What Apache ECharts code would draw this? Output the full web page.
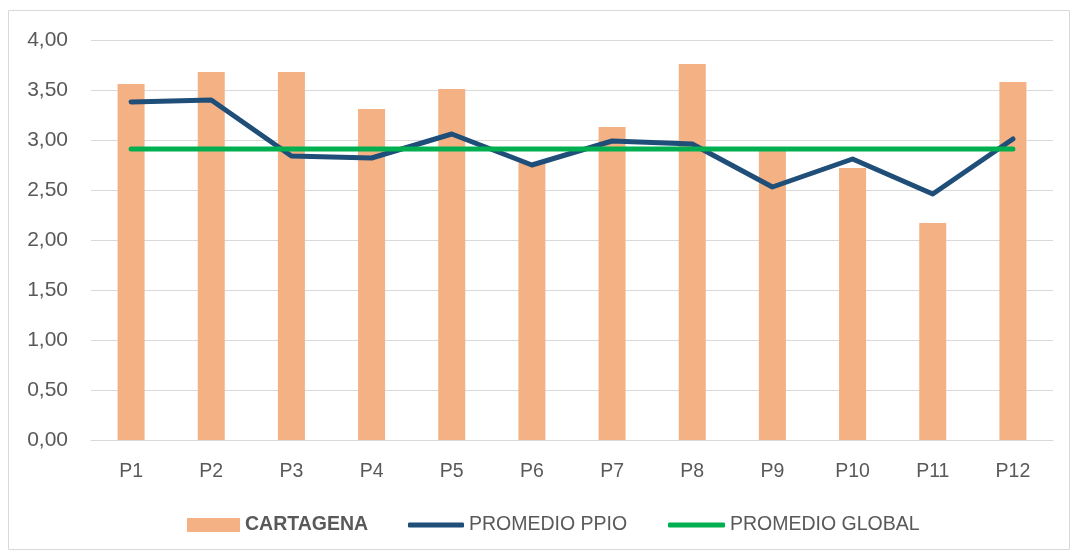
<!DOCTYPE html>
<html>
<head>
<meta charset="utf-8">
<script src="https://cdn.jsdelivr.net/npm/echarts@6/dist/echarts.min.js"></script>
<style>html,body{margin:0;padding:0;background:#fff}#c{width:1077px;height:556px}</style>
</head>
<body>
<div id="c"></div>
<script>
const categories = ['P1','P2','P3','P4','P5','P6','P7','P8','P9','P10','P11','P12'];
const cartagena = [3.56,3.68,3.68,3.31,3.51,2.77,3.13,3.76,2.90,2.72,2.17,3.58];
const promedioPpio = [3.38,3.40,2.84,2.82,3.06,2.75,2.99,2.96,2.53,2.81,2.46,3.01];
const promedioGlobal = [2.91,2.91,2.91,2.91,2.91,2.91,2.91,2.91,2.91,2.91,2.91,2.91];
const yTicks = {min:0, max:4, interval:0.5};

const FONT = '"Liberation Sans", Arial, sans-serif';
const legendText = {fontFamily:FONT,fontSize:19.5,color:'#595959'};
const chart = echarts.init(document.getElementById('c'), null, {renderer:'canvas'});
chart.setOption({
  animation:false,
  backgroundColor:'#fff',
  graphic:[{type:'rect', shape:{x:8.5,y:10.5,width:1061,height:539}, style:{fill:'none',stroke:'#d9d9d9',lineWidth:1}, silent:true}],
  grid:{left:91,right:24,top:40,bottom:116},
  legend:[
    {left:182, top:510, itemWidth:53, itemHeight:14,
     textStyle:Object.assign({}, legendText, {fontWeight:'bold'}),
     data:[{name:'CARTAGENA',icon:'rect'}]},
    {left:403, top:510, itemWidth:56, itemHeight:5,
     textStyle:legendText,
     data:[{name:'PROMEDIO PPIO',icon:'roundRect'}]},
    {left:663, top:510, itemWidth:57, itemHeight:5,
     textStyle:legendText,
     data:[{name:'PROMEDIO GLOBAL',icon:'roundRect'}]}
  ],
  xAxis:{
    type:'category', data:categories,
    axisLine:{lineStyle:{color:'#d9d9d9',width:1}},
    axisTick:{show:false},
    axisLabel:{color:'#595959',fontFamily:FONT,fontSize:19.5,margin:22}
  },
  yAxis:{
    type:'value', min:yTicks.min, max:yTicks.max, interval:yTicks.interval,
    axisLine:{show:false}, axisTick:{show:false},
    splitLine:{lineStyle:{color:'#d9d9d9',width:1}},
    axisLabel:{color:'#595959',fontFamily:FONT,fontSize:21,margin:23,
      formatter:function(v){return v.toFixed(2).replace('.',',');}}
  },
  series:[
    {name:'CARTAGENA',type:'bar',data:cartagena,barWidth:27,itemStyle:{color:'#F4B183'}},
    {name:'PROMEDIO PPIO',type:'line',data:promedioPpio,symbol:'none',lineStyle:{color:'#1F4E79',width:5,cap:'round',join:'round'},itemStyle:{color:'#1F4E79'}},
    {name:'PROMEDIO GLOBAL',type:'line',data:promedioGlobal,symbol:'none',lineStyle:{color:'#00B050',width:5,cap:'round'},itemStyle:{color:'#00B050'}}
  ]
});
</script>
</body>
</html>
